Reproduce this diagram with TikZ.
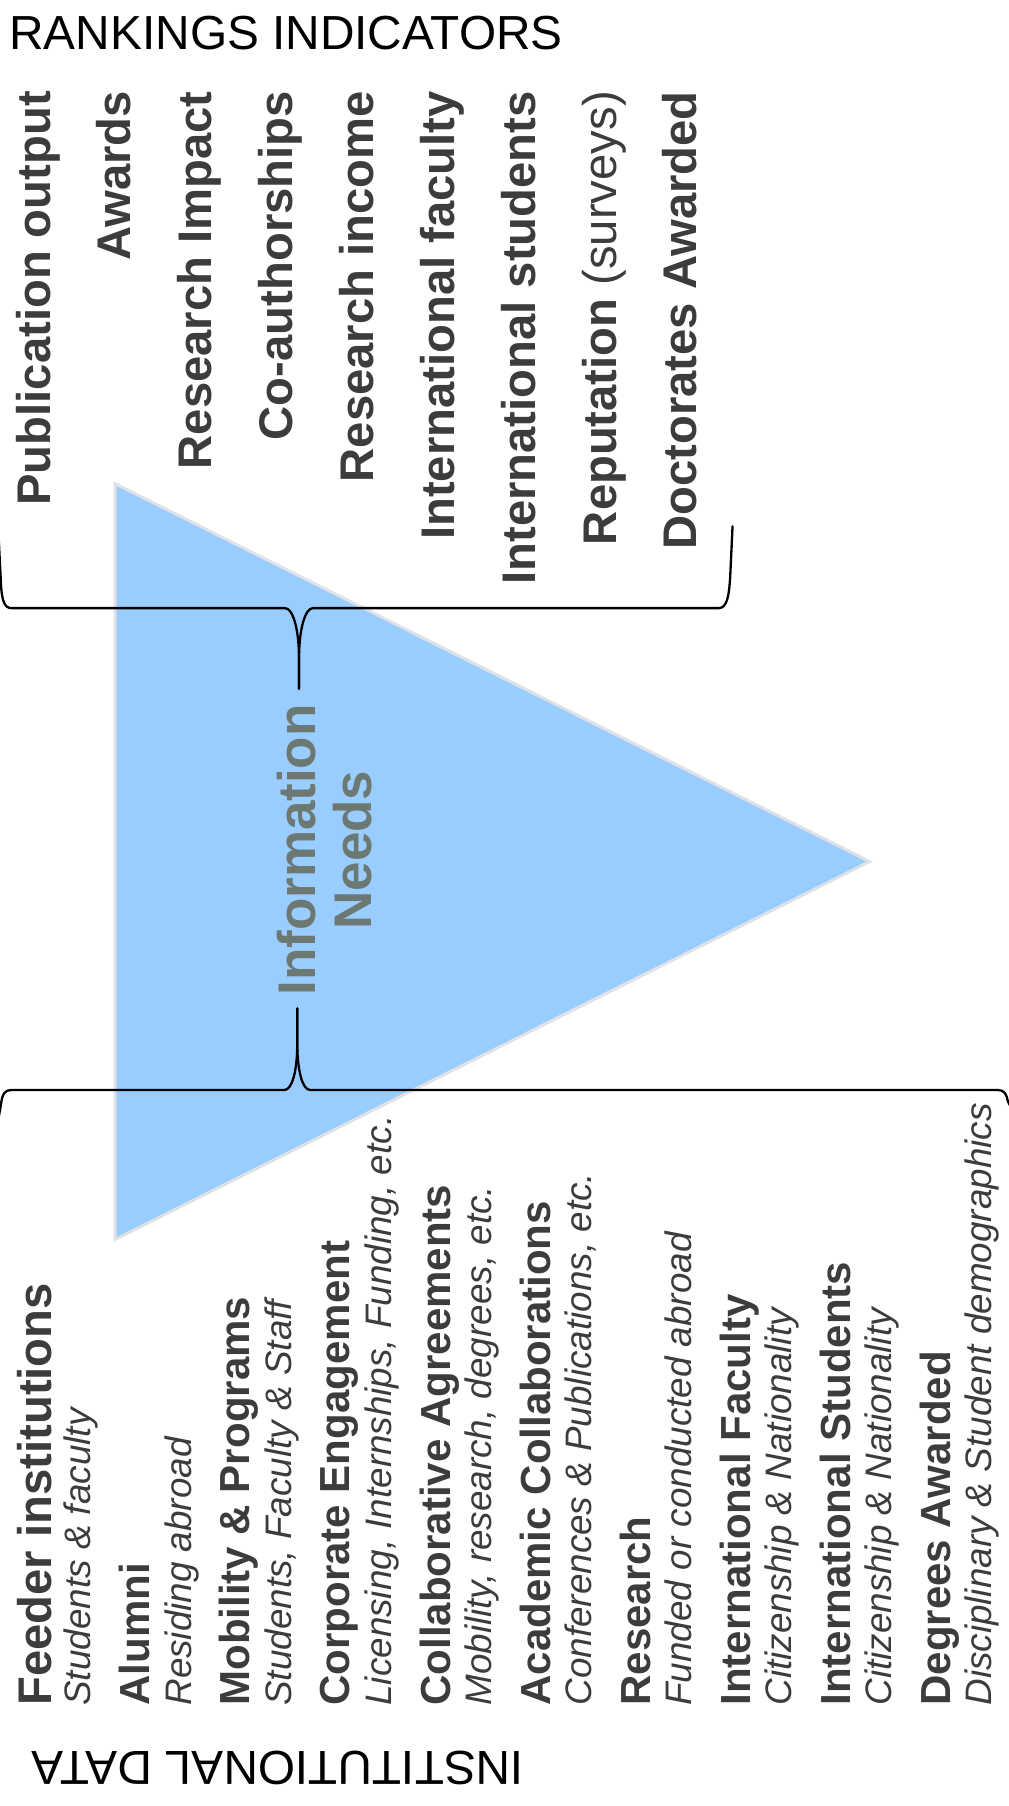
\documentclass[tikz,border=0pt]{standalone}
\usepackage{fontspec}
\setmainfont{Liberation Sans}
\definecolor{ink}{RGB}{58,61,59}
\definecolor{triblue}{RGB}{153,204,255}
\definecolor{triedge}{RGB}{222,226,230}
\definecolor{needsgray}{RGB}{108,120,114}
\begin{document}
\begin{tikzpicture}[x=1pt,y=-1pt,
  heading/.style={inner sep=0pt,text=black,font=\fontsize{41.5}{41.5}\selectfont},
  ind/.style={rotate=90,anchor=base east,inner sep=0pt,text=ink,font=\fontsize{41}{41}\selectfont\bfseries},
  dbig/.style={rotate=90,anchor=base west,inner sep=0pt,text=ink,font=\fontsize{41}{41}\selectfont\bfseries},
  dtitle/.style={rotate=90,anchor=base west,inner sep=0pt,text=ink,font=\fontsize{36.5}{36.5}\selectfont\bfseries},
  dsub/.style={rotate=90,anchor=base west,inner sep=0pt,text=ink,font=\fontsize{32}{32}\selectfont\itshape},
  bracepath/.style={draw=black,line width=2pt,line cap=round,line join=round},
  needsbox/.style={rotate=90,inner sep=0pt,align=center,text=needsgray,font=\fontsize{46}{49}\selectfont\bfseries}
]
\clip (0,0) rectangle (876,1568);
\fill[white] (0,0) rectangle (876,1568);

% triangle
\coordinate (tA) at (100,420);
\coordinate (tB) at (755,748);
\coordinate (tC) at (100,1076);
\draw[fill=triblue,draw=triedge,line width=2.5pt,line join=miter] (tA) -- (tB) -- (tC) -- cycle;

% headings
\node[heading,anchor=base west] (rank) at (8,43) {RANKINGS INDICATORS};
\node[heading,rotate=180,anchor=base west] (inst) at (455,1521) {INSTITUTIONAL DATA};

% ranking indicators
\node[ind] (i0) at (43.5,79) {Publication output};
\node[ind] (i1) at (113.7,79) {Awards};
\node[ind] (i2) at (183.9,79) {Research Impact};
\node[ind] (i3) at (254.1,79) {Co-authorships};
\node[ind] (i4) at (324.3,79) {Research income};
\node[ind] (i5) at (394.5,79) {International faculty};
\node[ind] (i6) at (464.7,79) {International students};
\node[ind] (i7) at (534.9,79) {Reputation \mdseries(surveys)};
\node[ind] (i8) at (605.1,79) {Doctorates Awarded};

% top brace
\coordinate (tbL) at (-1,470);
\coordinate (tbR) at (636,457);
\coordinate (tbTip) at (259.6,598);
\draw[bracepath] (tbL) -- (1,510) .. controls (2,522) and (4,528) .. (10,528) -- (247.5,528) .. controls (254,528) and (259.6,545) .. (259.6,572) -- (tbTip);
\draw[bracepath] (tbTip) -- (259.6,572) .. controls (259.6,545) and (265.2,528) .. (271.7,528) -- (624,528) .. controls (631,528) and (633,518) .. (634,500) -- (tbR);

% bottom brace
\coordinate (bbL) at (-2,975);
\coordinate (bbR) at (878,962);
\coordinate (bbTip) at (258.1,875.5);
\draw[bracepath] (bbL) -- (1,958) .. controls (2,950) and (4,946.3) .. (10,946.3) -- (247,946.3) .. controls (253.5,946.3) and (258.1,930) .. (258.1,906) -- (bbTip);
\draw[bracepath] (bbTip) -- (258.1,906) .. controls (258.1,930) and (262.7,946.3) .. (269.2,946.3) -- (866,946.3) .. controls (872,946.3) and (874,950) .. (875,956) -- (bbR);

% information needs
\node[needsbox] (needs) at (282,738) {Information\\Needs};

% institutional data
\node[dbig]   (d0t) at (44.4,1481) {Feeder institutions};
\node[dsub]   (d0s) at (79,1481) {Students \& faculty};
\node[dtitle] (d1t) at (130,1481) {Alumni};
\node[dsub]   (d1s) at (165.9,1481) {Residing abroad};
\node[dtitle] (d2t) at (216.9,1481) {Mobility \& Programs};
\node[dsub]   (d2s) at (252.8,1481) {Students, Faculty \& Staff};
\node[dtitle] (d3t) at (303.8,1481) {Corporate Engagement};
\node[dsub]   (d3s) at (339.7,1481) {Licensing, Internships, Funding, etc.};
\node[dtitle] (d4t) at (390.7,1481) {Collaborative Agreements};
\node[dsub]   (d4s) at (426.6,1481) {Mobility, research, degrees, etc.};
\node[dtitle] (d5t) at (477.6,1481) {Academic Collaborations};
\node[dsub]   (d5s) at (513.5,1481) {Conferences \& Publications, etc.};
\node[dtitle] (d6t) at (564.5,1481) {Research};
\node[dsub]   (d6s) at (600.4,1481) {Funded or conducted abroad};
\node[dtitle] (d7t) at (651.4,1481) {International Faculty};
\node[dsub]   (d7s) at (687.3,1481) {Citizenship \& Nationality};
\node[dtitle] (d8t) at (738.3,1481) {International Students};
\node[dsub]   (d8s) at (774.2,1481) {Citizenship \& Nationality};
\node[dtitle] (d9t) at (825.2,1481) {Degrees Awarded};
\node[dsub]   (d9s) at (861.1,1481) {Disciplinary \& Student demographics};
\end{tikzpicture}
\end{document}
